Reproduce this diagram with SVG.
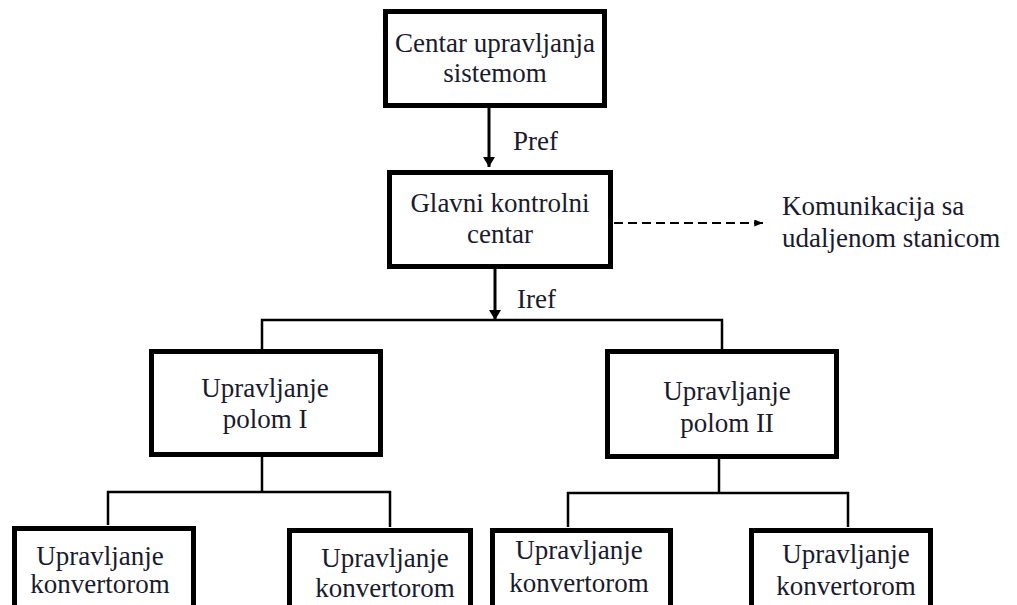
<svg xmlns="http://www.w3.org/2000/svg" width="1017" height="605" viewBox="0 0 1017 605">
<style>
.box{fill:#fff;stroke:#000;stroke-width:5}
.t{font-family:'Liberation Serif','Times New Roman','DejaVu Serif',serif;font-size:27px;fill:#1a1a2e;text-anchor:middle}
.l{font-family:'Liberation Serif','Times New Roman','DejaVu Serif',serif;font-size:27px;fill:#1a1a2e}
.c{fill:none;stroke:#000;stroke-width:2.5}
.a{fill:none;stroke:#000;stroke-width:3}
.d{fill:none;stroke:#000;stroke-width:2;stroke-dasharray:9,5}
</style>
<defs>
<marker id="ah" viewBox="0 0 10 16" refX="10" refY="8" markerWidth="10" markerHeight="16" markerUnits="userSpaceOnUse" orient="auto">
<path d="M0,2 L10,8 L0,14 Z" fill="#000"/>
</marker>
<marker id="ahs" viewBox="0 0 10 8" refX="10" refY="4" markerWidth="12" markerHeight="7" markerUnits="userSpaceOnUse" orient="auto">
<path d="M0,0 L10,4 L0,8 Z" fill="#000"/>
</marker>
</defs>
<rect width="1017" height="605" fill="#fff"/>
<g id="connectors">
<line class="a" x1="489" y1="108" x2="489" y2="167" marker-end="url(#ah)"/>
<text class="l" x="513" y="150">Pref</text>
<line class="a" x1="495" y1="269" x2="495" y2="320" marker-end="url(#ah)"/>
<text class="l" x="517" y="308">Iref</text>
<line class="d" x1="614" y1="223" x2="763" y2="223" marker-end="url(#ahs)"/>
<polyline class="c" points="262,349 262,320 722,320 722,349"/>
<line class="c" x1="262" y1="457" x2="262" y2="492"/>
<polyline class="c" points="108,525 108,492 390,492 390,527"/>
<line class="c" x1="719" y1="458" x2="719" y2="493"/>
<polyline class="c" points="568,527 568,493 848,493 848,527"/>
</g>
<g id="centar">
<rect class="box" x="385.5" y="11.5" width="219" height="94"/>
<text class="t" x="495" y="52">Centar upravljanja</text>
<text class="t" x="495" y="82">sistemom</text>
</g>
<g id="glavni">
<rect class="box" x="389.5" y="172.5" width="221" height="94"/>
<text class="t" x="500" y="212">Glavni kontrolni</text>
<text class="t" x="500" y="243">centar</text>
</g>
<g id="komunikacija">
<text class="l" x="782" y="215">Komunikacija sa</text>
<text class="l" x="782" y="247">udaljenom stanicom</text>
</g>
<g id="pol1">
<rect class="box" x="151.5" y="351.5" width="229" height="103"/>
<text class="t" x="265" y="397">Upravljanje</text>
<text class="t" x="265" y="428">polom I</text>
</g>
<g id="pol2">
<rect class="box" x="607.5" y="351.5" width="229" height="105"/>
<text class="t" x="727" y="400">Upravljanje</text>
<text class="t" x="727" y="432">polom II</text>
</g>
<g id="konv1">
<rect class="box" x="14.5" y="528.5" width="179" height="90"/>
<text class="t" x="100" y="565">Upravljanje</text>
<text class="t" x="100" y="593">konvertorom</text>
</g>
<g id="konv2">
<rect class="box" x="289.5" y="530.5" width="181" height="90"/>
<text class="t" x="385" y="567">Upravljanje</text>
<text class="t" x="385" y="597">konvertorom</text>
</g>
<g id="konv3">
<rect class="box" x="492.5" y="530.5" width="178" height="90"/>
<text class="t" x="579" y="559">Upravljanje</text>
<text class="t" x="579" y="592">konvertorom</text>
</g>
<g id="konv4">
<rect class="box" x="751.5" y="530.5" width="179" height="90"/>
<text class="t" x="846" y="563">Upravljanje</text>
<text class="t" x="846" y="595">konvertorom</text>
</g>
</svg>
